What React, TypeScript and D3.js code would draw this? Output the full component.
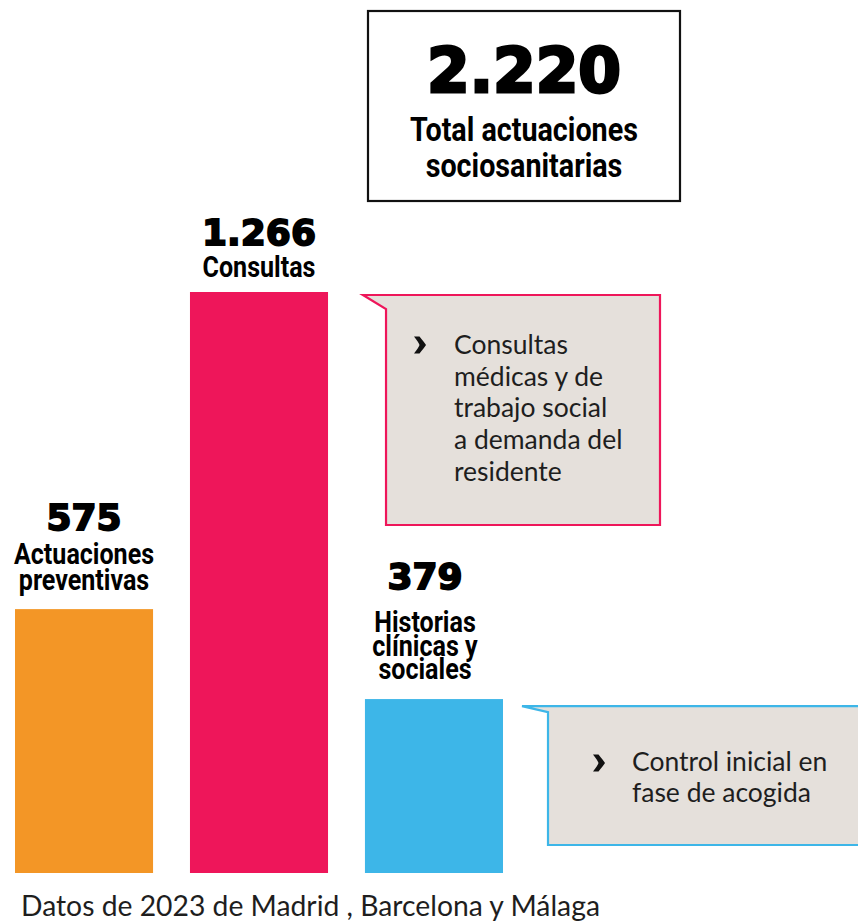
import React from "react";
import * as d3 from "d3";

const categories = ["preventivas", "consultas", "historias"];
const values = [575, 1266, 379];
const barLabels = [
  ["Actuaciones", "preventivas"],
  ["Consultas"],
  ["Historias", "clínicas y", "sociales"],
];
const colors = ["#F39626", "#EE165A", "#3DB6E8"];
const totalLabel = ["Total actuaciones", "sociosanitarias"];
const calloutConsultas = ["Consultas", "médicas y de", "trabajo social", "a demanda del", "residente"];
const calloutHistorias = ["Control inicial en", "fase de acogida"];
const footer = "Datos de 2023 de Madrid , Barcelona y Málaga";

const W = 858;
const H = 922;

const es = d3.formatLocale({ decimal: ",", thousands: ".", grouping: [3], currency: ["", "€"] });
const fmt = (v: number) => (v >= 1000 ? es.format(",")(v) : String(v));

const heavy = "'DejaVu Sans', sans-serif";
const cond = "Roboto, sans-serif";
const body = "Lato, 'Open Sans', sans-serif";

function Chevron({ x, y }: { x: number; y: number }) {
  return (
    <path
      transform={`translate(${x},${y})`}
      d="M-1,-8.5 L4.5,-8.5 C7.5,-4.5 10,-2 11,0 C10,2 7.5,4.5 4.5,8.5 L-1,8.5 C2,4.5 4,2 4.5,0 C4,-2 2,-4.5 -1,-8.5 Z"
      fill="#111"
    />
  );
}

export default function App() {
  const x = d3.scaleBand<string>().domain(categories).range([15, 503]).paddingInner(0.211).paddingOuter(0);
  const y = d3.scaleLinear().domain([0, d3.max(values) as number]).range([873, 292]);
  const bw = x.bandwidth();
  const total = d3.sum(values);

  const labelLayout = [
    { dx: 0, lastGap: 19, lh: 26, numGap: 34 },
    { dx: 0, lastGap: 15, lh: 26, numGap: 32 },
    { dx: -9, lastGap: 20, lh: 23.5, numGap: 43 },
  ];

  const pinkRight = (x(categories[1]) as number) + bw;
  const pinkTop = y(values[1]) + 3;
  const pinkTip = pinkRight + 35;
  const pinkLeft = pinkRight + 58;
  const pinkPts = [
    [pinkTip, pinkTop],
    [660, pinkTop],
    [660, 525],
    [pinkLeft, 525],
    [pinkLeft, pinkTop + 14],
  ];
  const blueRight = (x(categories[2]) as number) + bw;
  const blueTop = y(values[2]) + 7;
  const blueTip = blueRight + 19;
  const blueLeft = blueRight + 45;
  const bluePts = [
    [blueTip, blueTop],
    [880, blueTop],
    [880, 845],
    [blueLeft, 845],
    [blueLeft, blueTop + 6],
  ];
  const line = d3.line().curve(d3.curveLinearClosed);

  return (
    <svg width={W} height={H} style={{ position: "absolute", left: 0, top: 0, display: "block" }}>
      <rect width={W} height={H} fill="#fff" />

      {/* total box */}
      <rect x={368} y={11} width={312} height={190} fill="#fff" stroke="#111" strokeWidth={2.2} />
      <text
        x={524}
        y={92}
        textAnchor="middle"
        fontFamily={heavy}
        fontWeight={700}
        fontSize={63}
        fill="#000"
        stroke="#000"
        strokeWidth={3}
        textLength={194}
        lengthAdjust="spacingAndGlyphs"
      >
        {fmt(total)}
      </text>
      {totalLabel.map((t, i) => (
        <text
          key={t}
          transform={`translate(524,${141 + i * 36}) scale(0.87,1)`}
          textAnchor="middle"
          fontFamily={cond}
          fontWeight={700}
          fontSize={33}
          fill="#000"
        >
          {t}
        </text>
      ))}

      {/* bars */}
      {categories.map((c, i) => (
        <rect key={c} x={x(c)} y={y(values[i])} width={bw} height={y(0) - y(values[i])} fill={colors[i]} />
      ))}

      {/* bar labels */}
      {categories.map((c, i) => {
        const L = labelLayout[i];
        const cx = (x(c) as number) + bw / 2 + L.dx;
        const lines = barLabels[i];
        const lastY = y(values[i]) - L.lastGap;
        const firstY = lastY - (lines.length - 1) * L.lh;
        return (
          <g key={c}>
            <text
              x={cx}
              y={firstY - L.numGap}
              textAnchor="middle"
              fontFamily={heavy}
              fontWeight={700}
              fontSize={36}
              fill="#000"
              stroke="#000"
              strokeWidth={1.8}
            >
              {fmt(values[i])}
            </text>
            {lines.map((t, j) => (
              <text
                key={t}
                transform={`translate(${cx},${firstY + j * L.lh}) scale(0.85,1)`}
                textAnchor="middle"
                fontFamily={cond}
                fontWeight={700}
                fontSize={29.5}
                fill="#000"
              >
                {t}
              </text>
            ))}
          </g>
        );
      })}

      {/* callouts */}
      <path d={line(pinkPts as [number, number][]) as string} fill="#E5E0DB" stroke="#EE165A" strokeWidth={2.2} />
      <Chevron x={415} y={345} />
      {calloutConsultas.map((t, j) => (
        <text key={t} x={454} y={354 + j * 31.7} fontFamily={body} fontSize={26.5} fill="#1e1e1e">
          {t}
        </text>
      ))}
      <path d={line(bluePts as [number, number][]) as string} fill="#E5E0DB" stroke="#3DB6E8" strokeWidth={2.2} />
      <Chevron x={594} y={763} />
      {calloutHistorias.map((t, j) => (
        <text key={t} x={632} y={771 + j * 31} fontFamily={body} fontSize={26.5} fill="#1e1e1e">
          {t}
        </text>
      ))}

      {/* footer */}
      <text x={21} y={916} fontFamily={body} fontSize={28.3} fill="#1e1e1e">
        {footer}
      </text>
    </svg>
  );
}
